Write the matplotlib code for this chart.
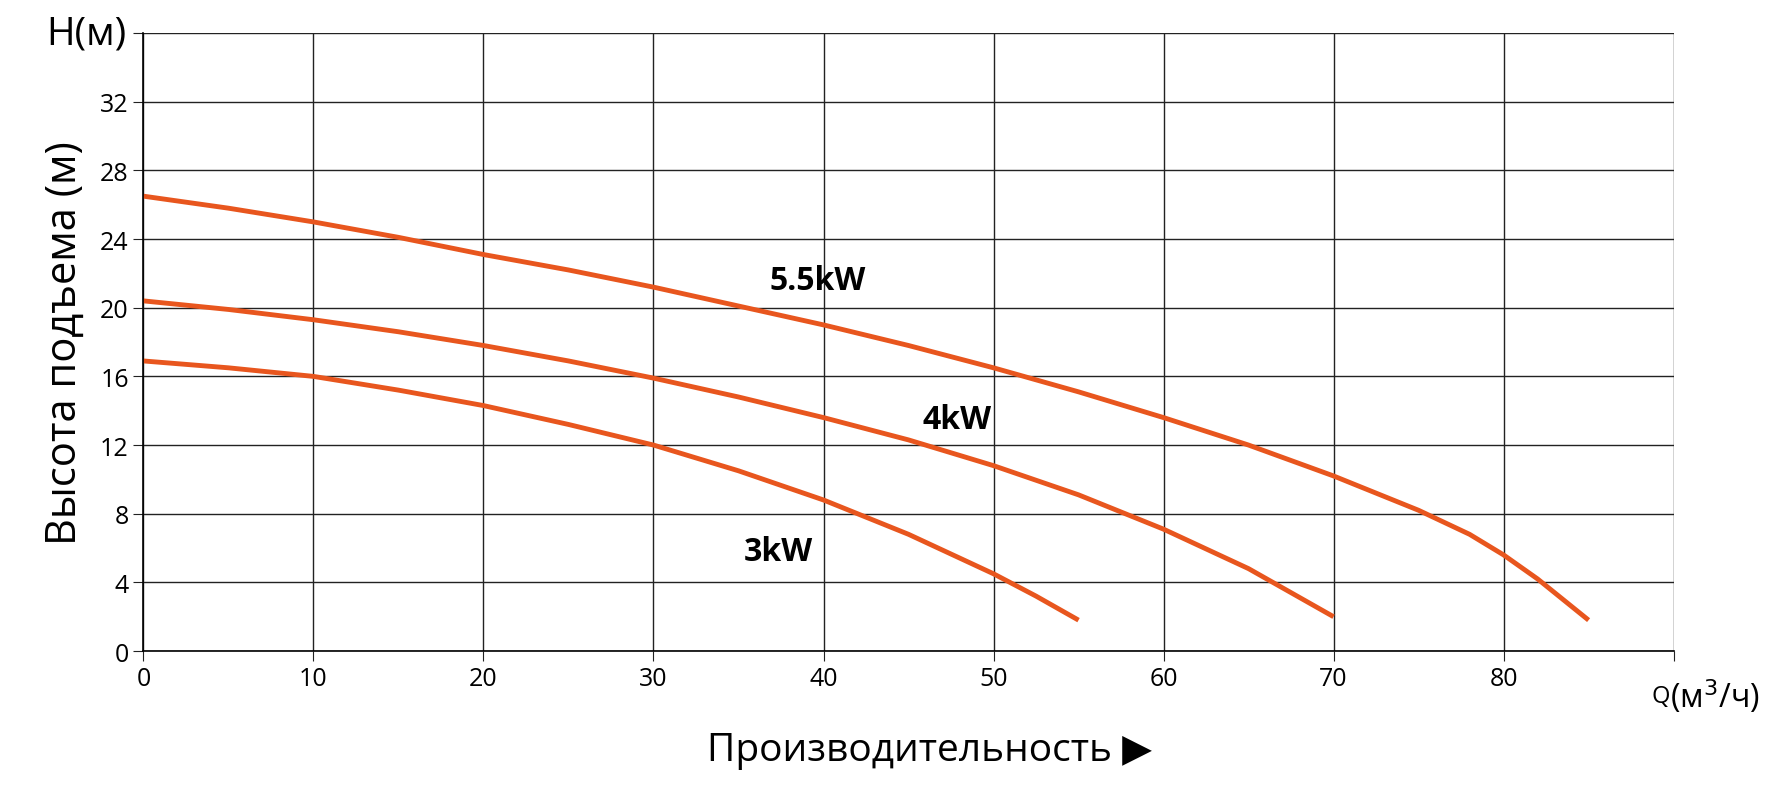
import matplotlib
matplotlib.use("Agg")
import matplotlib.pyplot as plt

q55 = [0, 5, 10, 15, 20, 25, 30, 35, 40, 45, 50, 55, 60, 65, 70, 75, 78, 80, 82, 83.5, 85]
h55 = [26.5, 25.8, 25.0, 24.1, 23.1, 22.2, 21.2, 20.1, 19.0, 17.8, 16.5, 15.1, 13.6, 12.0, 10.2, 8.2, 6.8, 5.6, 4.2, 3.0, 1.8]
q4 = [0, 5, 10, 15, 20, 25, 30, 35, 40, 45, 50, 55, 60, 65, 67.5, 70]
h4 = [20.4, 19.9, 19.3, 18.6, 17.8, 16.9, 15.9, 14.8, 13.6, 12.3, 10.8, 9.1, 7.1, 4.8, 3.4, 2.0]
q3 = [0, 5, 10, 15, 20, 25, 30, 35, 40, 45, 50, 52.5, 55]
h3 = [16.9, 16.5, 16.0, 15.2, 14.3, 13.2, 12.0, 10.5, 8.8, 6.8, 4.5, 3.2, 1.8]
labels = ["5.5kW", "4kW", "3kW"]
xticks = [0, 10, 20, 30, 40, 50, 60, 70, 80]
yticks = [0, 4, 8, 12, 16, 20, 24, 28, 32]

plt.rcParams['font.family'] = ['Open Sans', 'DejaVu Sans']
col = '#E8561E'
fig = plt.figure(figsize=(17.71, 8.12), dpi=100)
ax = fig.add_axes([0.081, 0.197, 0.864, 0.761])
ax.set_xlim(0, 90)
ax.set_ylim(0, 36)
for q, h in [(q55, h55), (q4, h4), (q3, h3)]:
    ax.plot(q, h, color=col, lw=3.5, solid_capstyle='butt')
for t, (x, y) in zip(labels, [(36.8, 21.6), (45.8, 13.5), (35.3, 5.8)]):
    ax.text(x, y, t, fontsize=23, fontweight='bold', ha='left', va='center')
ax.set_xticks(xticks + [90])
ax.set_xticklabels([str(v) for v in xticks] + [""])
ax.set_yticks(yticks + [36])
ax.set_yticklabels([str(v) for v in yticks] + [""])
ax.grid(True, color='#222222', lw=1)
ax.tick_params(labelsize=18, length=7, color='#222222')
for s in ['top', 'right']:
    ax.spines[s].set_visible(False)
for s in ['left', 'bottom']:
    ax.spines[s].set_linewidth(1.2)
ax.set_ylabel("Высота подъема (м)", fontsize=30, labelpad=10)
ax.text(-1.0, 36, "H(м)", fontsize=28, ha='right', va='center')
ax.text(88.7, -2.6, "Q", fontsize=17, ha='left', va='center')
ax.text(89.8, -2.6, "(м$^3$/ч)", fontsize=23, ha='left', va='center')
fig.text(0.525, 0.075, "Производительность ▶", fontsize=28, ha='center', va='center')
fig.savefig("out.png", dpi=100)
